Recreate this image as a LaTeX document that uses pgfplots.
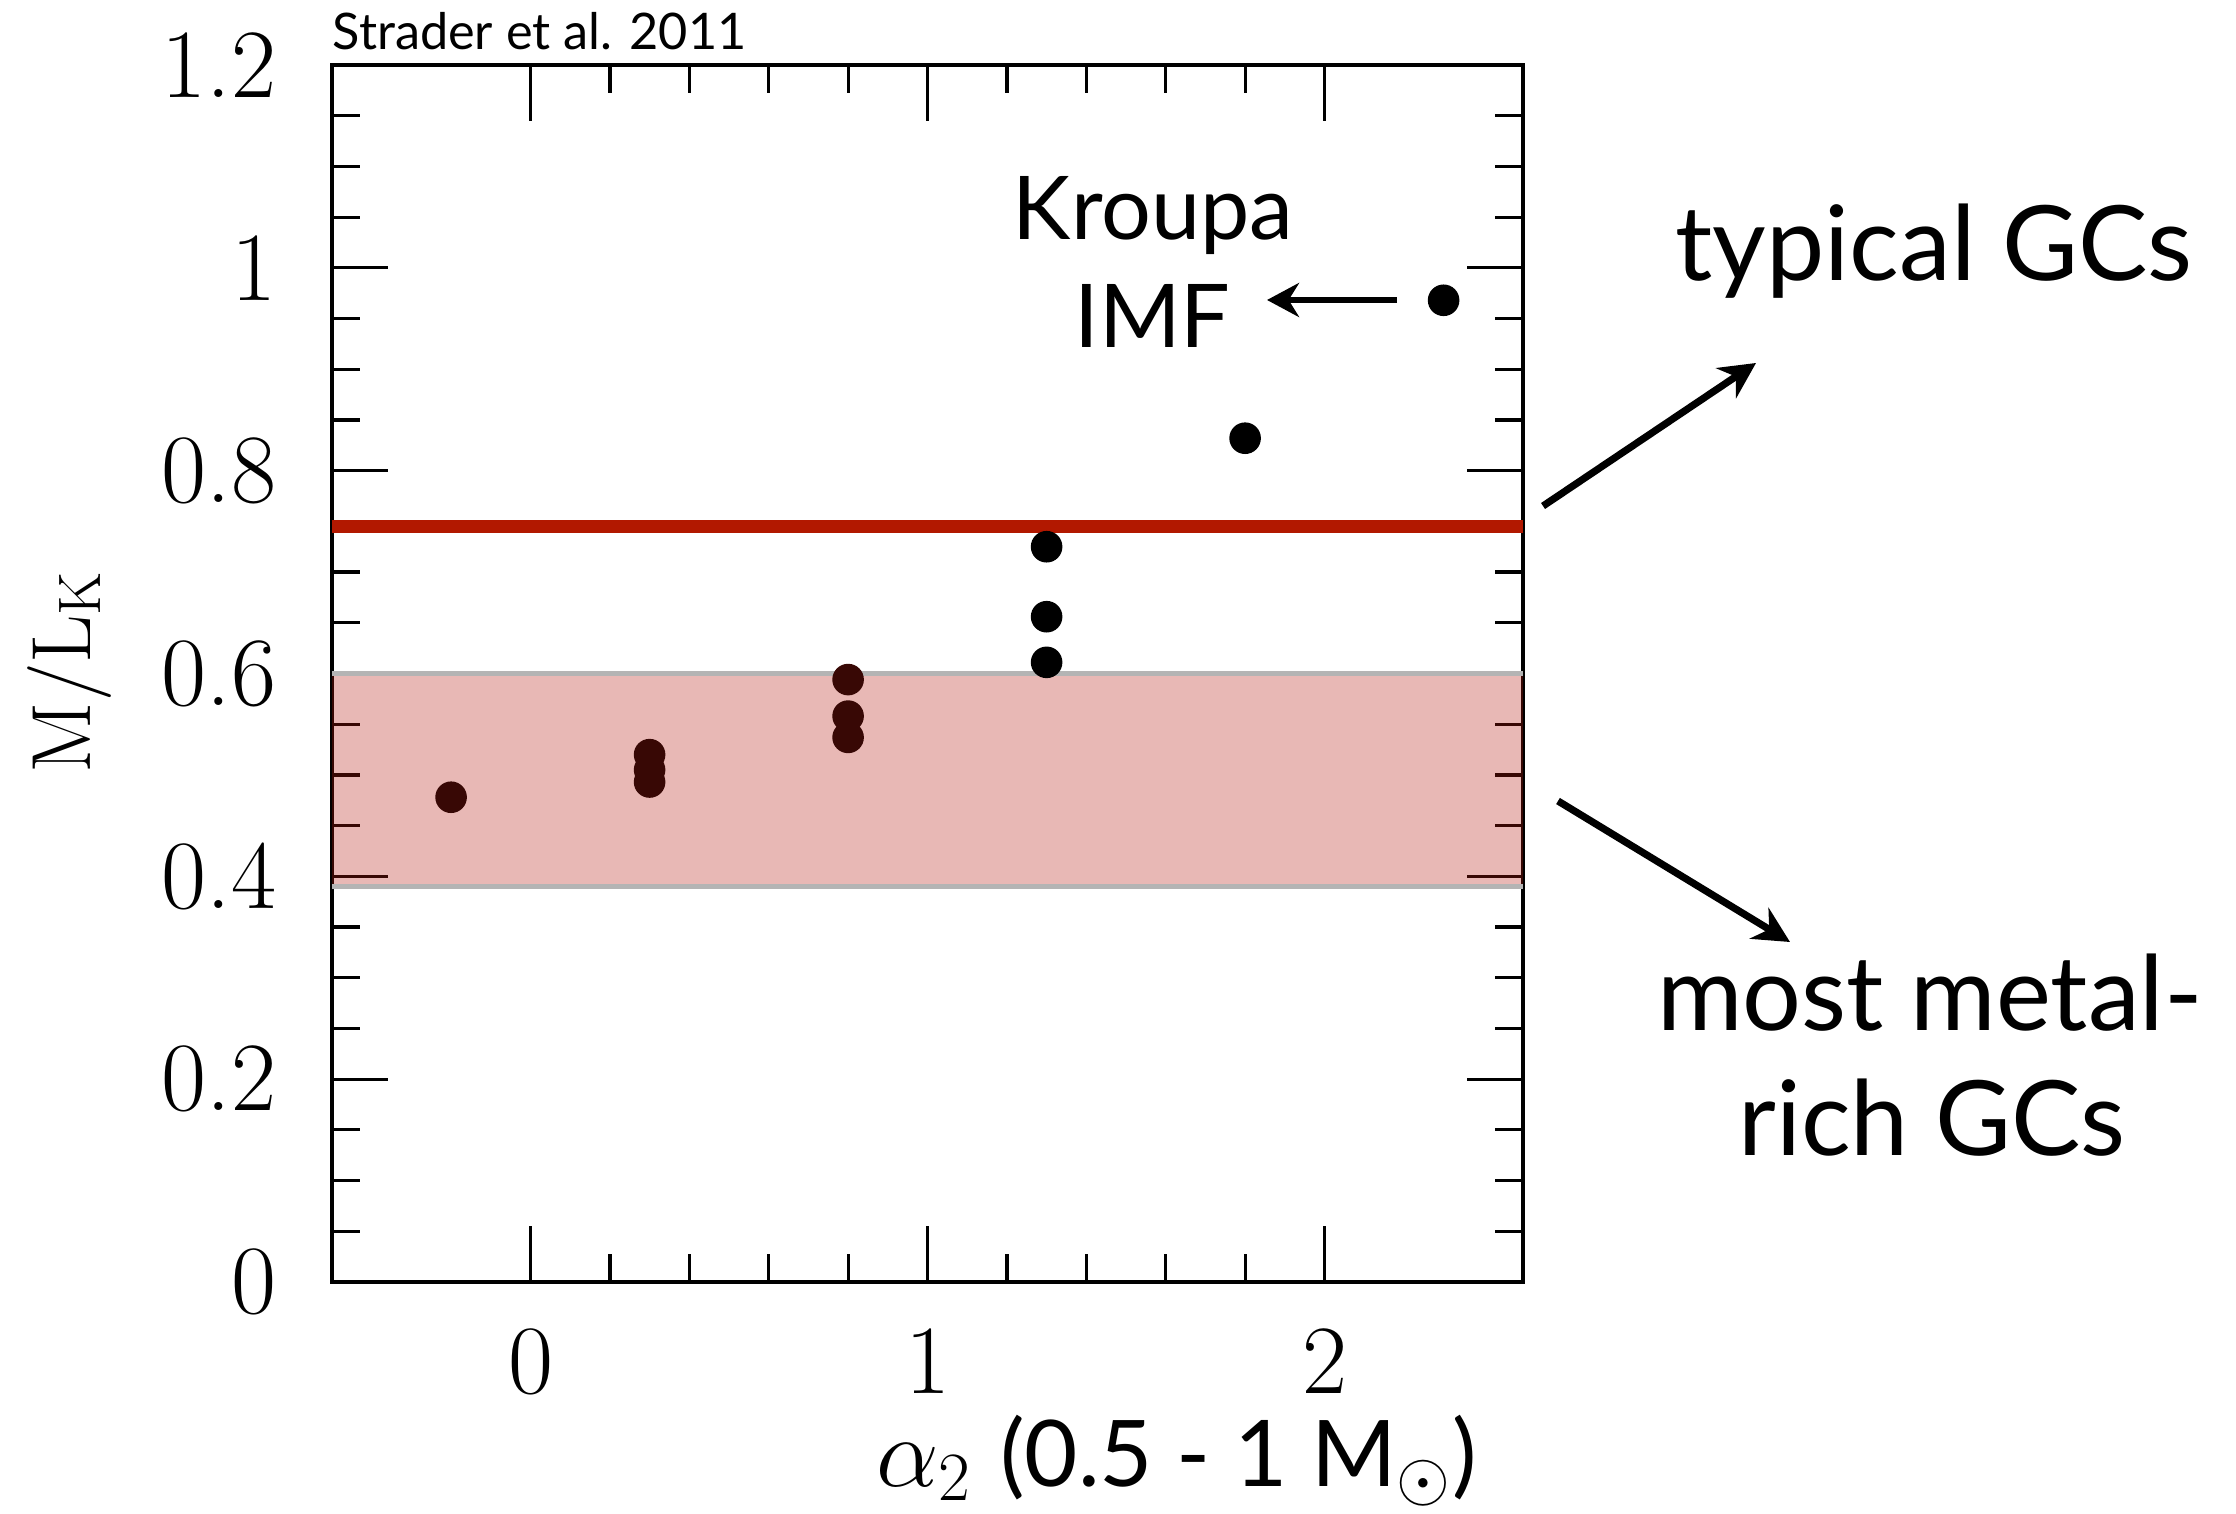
\documentclass[border=0pt]{standalone}
\usepackage{fontspec}
\usepackage{pgfplots}
\pgfplotsset{compat=1.18}
\usetikzlibrary{arrows.meta}
\newfontfamily\gill{Lato}
\definecolor{lineRed}{RGB}{178,24,0}
\definecolor{bandRed}{RGB}{180,26,16}
\definecolor{bandEdge}{RGB}{180,180,180}
\definecolor{inBand}{RGB}{56,8,5}

\begin{document}
\begin{tikzpicture}
\path[use as bounding box] (0,0) rectangle (559pt,378.25pt);
\begin{axis}[
  at={(83pt,57.75pt)}, anchor=south west,
  scale only axis, width=297.75pt, height=304.25pt,
  xmin=-0.5, xmax=2.5, ymin=0, ymax=1.2,
  xtick={0,1,2}, ytick={0,0.2,0.4,0.6,0.8,1,1.2},
  minor x tick num=4, minor y tick num=3,
  major tick length=14pt, minor tick length=7pt,
  tick align=inside,
  tick style={black, line width=0.8pt},
  axis line style={line width=1.2pt},
  /pgf/number format/assume math mode=true,
  tick label style={font=\fontsize{24.5}{28}\selectfont, inner sep=0pt},
  yticklabel style={xshift=-13.75pt},
  xticklabel style={yshift=-11.5pt},
]
% range of the most metal-rich clusters
\addplot[draw=none, fill=bandRed, fill opacity=0.31] coordinates {
  (-0.5,0.39) (2.5,0.39) (2.5,0.6) (-0.5,0.6)} -- cycle;
\addplot[bandEdge, line width=1.4pt] coordinates {(-0.5,0.6) (2.5,0.6)};
\addplot[bandEdge, line width=1.4pt] coordinates {(-0.5,0.39) (2.5,0.39)};
% model M/L values for each alpha_2: those seen through the band
\addplot[only marks, mark=*, mark size=3.75pt, inBand] coordinates {
  (-0.2,0.478)
  (0.3,0.520) (0.3,0.505) (0.3,0.493)
  (0.8,0.594) (0.8,0.558) (0.8,0.537)
};
% ... and those above it
\addplot[only marks, mark=*, mark size=3.75pt, black] coordinates {
  (1.3,0.725) (1.3,0.656) (1.3,0.611)
  (1.8,0.832)
  (2.3,0.968)
};
% typical globular clusters
\addplot[lineRed, line width=3.25pt] coordinates {(-0.5,0.745) (2.5,0.745)};
\end{axis}

\node[anchor=base west, inner sep=0pt, font=\gill\fontsize{12.6}{15}\selectfont]
  at (83pt,365.75pt) {Strader et al. 2011};

\node[anchor=base, inner sep=0pt, font=\gill\fontsize{22}{26}\selectfont]
  at (288.25pt,318.25pt) {Kroupa};
\node[anchor=base, inner sep=0pt, font=\gill\fontsize{22}{26}\selectfont]
  at (288.1pt,291.25pt) {IMF};
\draw[line width=1.6pt, -{Stealth[length=8pt,width=8.5pt]}]
  (349.25pt,303.25pt) -- (316.75pt,303.25pt);

\node[anchor=base, inner sep=0pt, font=\gill\fontsize{26}{30}\selectfont]
  at (483.5pt,308pt) {typical GCs};
\draw[line width=1.8pt, -{Stealth[length=9pt,width=9pt]}]
  (385.75pt,251.75pt) -- (439pt,287.5pt);

\node[anchor=base, inner sep=0pt, font=\gill\fontsize{26}{30}\selectfont]
  at (482.5pt,120.75pt) {most metal-};
\node[anchor=base, inner sep=0pt, font=\gill\fontsize{26}{30}\selectfont]
  at (483pt,89.5pt) {rich GCs};
\draw[line width=1.8pt, -{Stealth[length=9pt,width=9pt]}]
  (389.5pt,178pt) -- (447.5pt,142.75pt);

\node[anchor=base west, inner sep=0pt, font=\fontsize{23}{27}\selectfont]
  at (219pt,6.75pt)
  {$\alpha_{\scriptstyle 2}$ {\gill(0.5 - 1 M$_\odot$)}};

\node[rotate=90, anchor=base, inner sep=0pt, font=\fontsize{21}{25}\selectfont]
  at (22.5pt,210.1pt) {M/L{\fontsize{15}{16}\selectfont\raisebox{-0.4ex}{K}}};
\end{tikzpicture}
\end{document}
